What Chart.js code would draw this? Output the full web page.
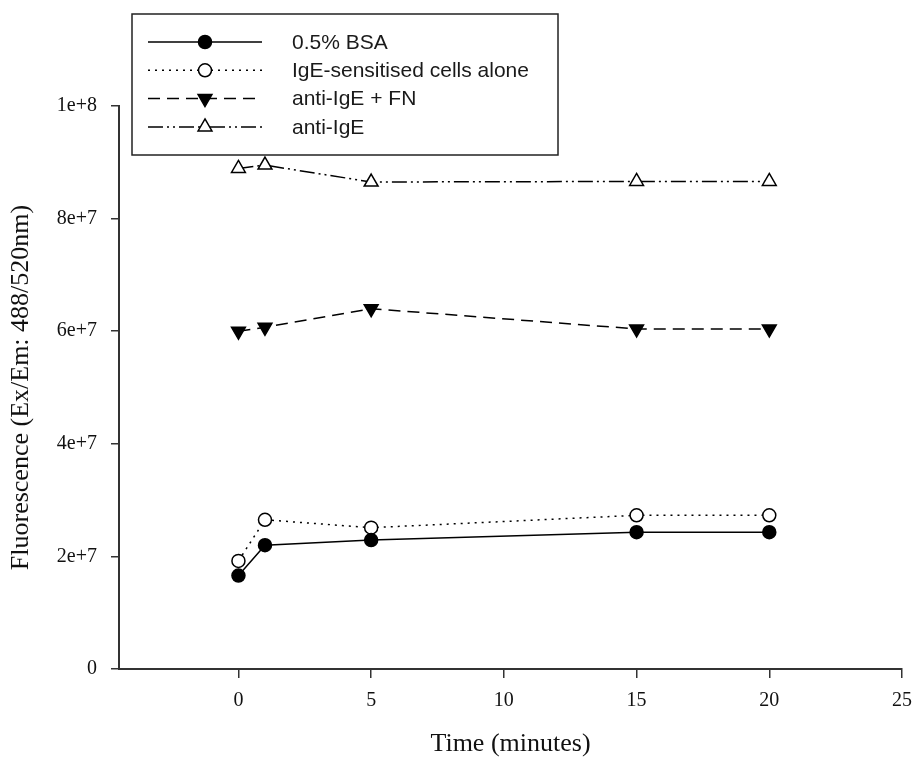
<!DOCTYPE html>
<html>
<head>
<meta charset="utf-8">
<script src="https://cdn.jsdelivr.net/npm/chart.js@4/dist/chart.umd.min.js"></script>
<style>
  html, body { margin: 0; padding: 0; background: #ffffff; }
  #wrap { width: 912px; height: 760px; }
</style>
</head>
<body>
<div id="wrap"><canvas id="c" width="912" height="760"></canvas></div>
<script>
// Sampling times (minutes)
const timeMinutes = [0, 1, 5, 15, 20];

// Fluorescence readings per condition
const bsaValues       = [1.66e7, 2.20e7, 2.29e7, 2.43e7, 2.43e7];
const igeAloneValues  = [1.92e7, 2.65e7, 2.51e7, 2.73e7, 2.73e7];
const antiIgeFnValues = [6.00e7, 6.07e7, 6.40e7, 6.04e7, 6.04e7];
const antiIgeValues   = [8.89e7, 8.95e7, 8.65e7, 8.66e7, 8.66e7];

const seriesNames = ['0.5% BSA', 'IgE-sensitised cells alone', 'anti-IgE + FN', 'anti-IgE'];

// Axis ticks
const xTickValues = [0, 5, 10, 15, 20, 25];
const yTickValues = [0, 2e7, 4e7, 6e7, 8e7, 1e8];
const yTickLabels = ['0', '2e+7', '4e+7', '6e+7', '8e+7', '1e+8'];

const SERIF = "'Liberation Serif', 'Times New Roman', serif";
const SANS = "'Liberation Sans', Arial, sans-serif";

function pairs(values) {
  return timeMinutes.map((t, i) => ({ x: t, y: values[i] }));
}

function series(label, values, style) {
  return Object.assign({
    label: label,
    data: pairs(values),
    borderColor: '#000',
    borderWidth: 1.5,
    pointBorderColor: '#000',
    pointBorderWidth: 1.5,
    showLine: true,
    fill: false,
    tension: 0
  }, style);
}

const datasets = [
  series(seriesNames[0], bsaValues, {
    borderDash: [], pointStyle: 'circle', pointRadius: 6.5, pointBackgroundColor: '#000'
  }),
  series(seriesNames[1], igeAloneValues, {
    borderDash: [2, 5], pointStyle: 'circle', pointRadius: 6.5, pointBackgroundColor: '#fff'
  }),
  series(seriesNames[2], antiIgeFnValues, {
    borderDash: [12, 7], pointStyle: 'triangle', pointRotation: 180, pointRadius: 8, pointBackgroundColor: '#000'
  }),
  series(seriesNames[3], antiIgeValues, {
    borderDash: [15, 4, 2, 4, 2, 4], pointStyle: 'triangle', pointRotation: 0, pointRadius: 8, pointBackgroundColor: '#fff'
  })
];

// Marker shapes for the boxed legend, same geometry as the chart points
function drawMarker(ctx, ds, x, y) {
  const r = ds.pointRadius;
  ctx.save();
  ctx.setLineDash([]);
  ctx.lineWidth = ds.pointBorderWidth;
  ctx.strokeStyle = ds.pointBorderColor;
  ctx.fillStyle = ds.pointBackgroundColor;
  ctx.beginPath();
  if (ds.pointStyle === 'circle') {
    ctx.arc(x, y, r, 0, Math.PI * 2);
  } else {
    let rad = (ds.pointRotation || 0) * Math.PI / 180;
    for (let k = 0; k < 3; k++) {
      const px = x + Math.sin(rad) * r;
      const py = y - Math.cos(rad) * r;
      if (k === 0) ctx.moveTo(px, py); else ctx.lineTo(px, py);
      rad += 2 * Math.PI / 3;
    }
    ctx.closePath();
  }
  ctx.fill();
  ctx.stroke();
  ctx.restore();
}

const boxLegend = {
  id: 'boxLegend',
  afterDraw(chart) {
    const ctx = chart.ctx;
    const box = { x: 132, y: 14, w: 426, h: 141 };
    ctx.save();
    ctx.fillStyle = '#fff';
    ctx.fillRect(box.x, box.y, box.w, box.h);
    ctx.lineWidth = 1.5;
    ctx.strokeStyle = '#222';
    ctx.strokeRect(box.x, box.y, box.w, box.h);
    chart.data.datasets.forEach((ds, i) => {
      const y = 42 + i * 28.3;
      ctx.save();
      ctx.beginPath();
      ctx.setLineDash(ds.borderDash || []);
      ctx.lineWidth = ds.borderWidth;
      ctx.strokeStyle = ds.borderColor;
      ctx.moveTo(148, y);
      ctx.lineTo(262, y);
      ctx.stroke();
      ctx.restore();
      drawMarker(ctx, ds, 205, y);
      ctx.fillStyle = '#1a1a1a';
      ctx.font = '21px ' + SANS;
      ctx.textAlign = 'left';
      ctx.textBaseline = 'middle';
      ctx.fillText(ds.label, 292, y + 1);
    });
    ctx.restore();
  }
};

new Chart(document.getElementById('c'), {
  type: 'scatter',
  data: { datasets: datasets },
  plugins: [boxLegend],
  options: {
    responsive: false,
    animation: false,
    devicePixelRatio: 1,
    layout: { padding: { top: 106, right: 0, left: 0, bottom: 0 } },
    plugins: {
      legend: { display: false },
      tooltip: { enabled: false }
    },
    scales: {
      x: {
        type: 'linear',
        min: -4.5,
        max: 25,
        afterBuildTicks: (s) => { s.ticks = xTickValues.map(v => ({ value: v })); },
        afterFit: (s) => { s.height = 91; s.paddingLeft = 0; s.paddingRight = 10; },
        ticks: {
          font: { family: SERIF, size: 20 },
          color: '#111',
          padding: 11,
          autoSkip: false,
          maxRotation: 0
        },
        grid: { drawOnChartArea: false, drawTicks: true, tickLength: 9, color: '#333', lineWidth: 1.5 },
        border: { color: '#333', width: 2 },
        title: {
          display: true,
          text: 'Time (minutes)',
          font: { family: SERIF, size: 26 },
          color: '#111',
          padding: { top: 0, bottom: 0 }
        }
      },
      y: {
        type: 'linear',
        min: 0,
        max: 1e8,
        afterBuildTicks: (s) => { s.ticks = yTickValues.map(v => ({ value: v })); },
        afterFit: (s) => { s.width = 119; },
        ticks: {
          font: { family: SERIF, size: 20 },
          color: '#111',
          padding: 14,
          callback: (v) => yTickLabels[yTickValues.indexOf(v)]
        },
        grid: { drawOnChartArea: false, drawTicks: true, tickLength: 8, color: '#333', lineWidth: 1.5 },
        border: { color: '#333', width: 2 },
        title: {
          display: true,
          text: 'Fluorescence (Ex/Em: 488/520nm)',
          font: { family: SERIF, size: 26 },
          color: '#111',
          padding: { top: 6, bottom: 0 }
        }
      }
    }
  }
});
</script>
</body>
</html>
